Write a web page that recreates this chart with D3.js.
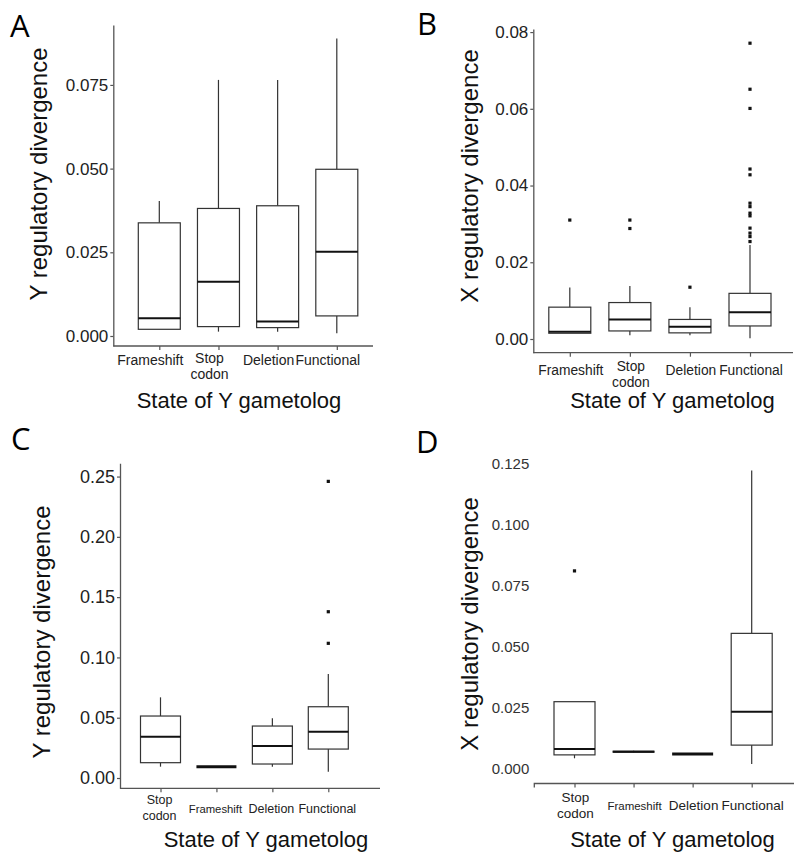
<!DOCTYPE html>
<html>
<head>
<meta charset="utf-8">
<script src="https://cdn.jsdelivr.net/npm/d3@7"></script>
<style>
  html, body { margin: 0; padding: 0; background: #fff; }
  svg { display: block; }
</style>
</head>
<body>
<svg id="chart" width="794" height="852"></svg>
<script>
// ---------------- DATA ----------------
// Panel A: Y regulatory divergence
const catsA = ["Frameshift", "Stop\ncodon", "Deletion", "Functional"];
const lowA  = [0.0020, 0.0013, 0.0013, 0.0008];
const q1A   = [0.0020, 0.0028, 0.0025, 0.0060];
const medA  = [0.0053, 0.0162, 0.0043, 0.0252];
const q3A   = [0.0338, 0.0381, 0.0389, 0.0498];
const highA = [0.0403, 0.0765, 0.0765, 0.0889];
const outA  = [[], [], [], []];
const ticksA = [0, 0.025, 0.05, 0.075];

// Panel B: X regulatory divergence
const catsB = ["Frameshift", "Stop\ncodon", "Deletion", "Functional"];
const lowB  = [0.0015, 0.0010, 0.0010, 0.0002];
const q1B   = [0.0015, 0.0021, 0.0016, 0.0034];
const medB  = [0.0019, 0.0051, 0.0032, 0.0070];
const q3B   = [0.0083, 0.0095, 0.0051, 0.0119];
const highB = [0.0134, 0.0138, 0.0083, 0.0245];
const outB  = [[0.0310], [0.0310, 0.0288], [0.0135],
  [0.0771, 0.0651, 0.0601, 0.0443, 0.0428, 0.0354, 0.0345, 0.0328, 0.0321, 0.0289, 0.0276, 0.0267, 0.0254]];
const ticksB = [0, 0.02, 0.04, 0.06, 0.08];

// Panel C: Y regulatory divergence
const catsC = ["Stop\ncodon", "Frameshift", "Deletion", "Functional"];
const lowC  = [0.0094, 0.0094, 0.0094, 0.0052];
const q1C   = [0.0127, 0.0094, 0.0116, 0.0240];
const medC  = [0.0342, 0.0094, 0.0265, 0.0384];
const q3C   = [0.0514, 0.0094, 0.0431, 0.0591];
const highC = [0.0669, 0.0094, 0.0495, 0.0862];
const outC  = [[], [], [], [0.1117, 0.1379, 0.2460]];
const ticksC = [0, 0.05, 0.10, 0.15, 0.20, 0.25];

// Panel D: X regulatory divergence
const catsD = ["Stop\ncodon", "Frameshift", "Deletion", "Functional"];
const lowD  = [0.0041, 0.0064, 0.0059, 0.0018];
const q1D   = [0.0055, 0.0066, 0.0059, 0.0095];
const medD  = [0.0079, 0.0068, 0.0059, 0.0232];
const q3D   = [0.0273, 0.0070, 0.0059, 0.0553];
const highD = [0.0273, 0.0072, 0.0059, 0.1220];
const outD  = [[0.0809], [], [], []];
const ticksD = [0, 0.025, 0.05, 0.075, 0.10, 0.125];

const xTitle = "State of Y gametolog";

// ---------------- DRAWING ----------------
const svg = d3.select("#chart");
const SANS = "'Liberation Sans', Arial, Helvetica, sans-serif";
const LETTER = "'Open Sans', 'Noto Sans', sans-serif";

function panel(cfg) {
  const g = svg.append("g");
  const y = d3.scaleLinear().domain(cfg.yDomain).range(cfg.yRange);
  const x = d3.scalePoint().domain(d3.range(cfg.cats.length)).range(cfg.xRange);
  const yBottom = cfg.yRange[0];

  // y axis
  const yAx = d3.axisLeft(y).tickValues(cfg.ticks).tickFormat(d3.format(cfg.fmt))
    .tickSize(cfg.showY ? 3 : 0).tickSizeOuter(0).tickPadding(cfg.showY ? 2 : 5);
  const yg = g.append("g").attr("transform", `translate(${cfg.axisX},0)`).call(yAx);
  yg.select(".domain").attr("stroke", "#555").attr("stroke-width", 1.3)
    .attr("display", cfg.showY ? null : "none");
  yg.selectAll(".tick line").attr("stroke", "#555").attr("stroke-width", 1.2);
  yg.selectAll(".tick text").attr("fill", cfg.tickColor).style("font-size", cfg.tickFont + "px")
    .style("font-family", SANS);

  // x axis ticks
  const xAx = d3.axisBottom(x).tickSize(4).tickFormat("").tickSizeOuter(0);
  const xg = g.append("g").attr("transform", `translate(0,${yBottom})`).call(xAx);
  xg.select(".domain").remove();
  xg.selectAll(".tick line").attr("stroke", "#555").attr("stroke-width", 1.2);
  // x axis line
  g.append("path")
    .attr("d", cfg.showY
      ? `M${cfg.axisX},${yBottom}H${cfg.axisRight}`
      : `M${cfg.axisX},${yBottom + 4}V${yBottom}H${cfg.axisRight}`)
    .attr("fill", "none").attr("stroke", "#555").attr("stroke-width", 1.3);

  // boxes
  const idx = d3.range(cfg.cats.length);
  const bw = cfg.boxW;
  const bx = g.append("g");
  idx.forEach(i => {
    const cx = x(i);
    bx.append("line").attr("x1", cx).attr("x2", cx)
      .attr("y1", y(cfg.q3[i])).attr("y2", y(cfg.high[i]))
      .attr("stroke", "#333").attr("stroke-width", 1.2);
    bx.append("line").attr("x1", cx).attr("x2", cx)
      .attr("y1", y(cfg.q1[i])).attr("y2", y(cfg.low[i]))
      .attr("stroke", "#333").attr("stroke-width", 1.2);
    bx.append("rect").attr("x", cx - bw / 2).attr("width", bw)
      .attr("y", y(cfg.q3[i])).attr("height", Math.max(0, y(cfg.q1[i]) - y(cfg.q3[i])))
      .attr("fill", "#fff").attr("stroke", "#333").attr("stroke-width", 1.2);
    bx.append("line").attr("x1", cx - bw / 2).attr("x2", cx + bw / 2)
      .attr("y1", y(cfg.med[i])).attr("y2", y(cfg.med[i]))
      .attr("stroke", "#111").attr("stroke-width", cfg.q1[i] === cfg.q3[i] ? 3 : 2);
    cfg.out[i].forEach(v => {
      bx.append("rect").attr("x", cx - 1.6).attr("y", y(v) - 1.6)
        .attr("width", 3.2).attr("height", 3.2).attr("fill", "#111");
    });
  });

  // category labels
  idx.forEach(i => {
    const parts = cfg.cats[i].split("\n");
    const lx = x(i) + cfg.labelDx;
    const fs = parts[0] === "Frameshift" ? cfg.fsFont : cfg.catFont;
    const t = g.append("text").attr("text-anchor", "middle")
      .style("font-family", SANS).style("font-size", fs + "px").attr("fill", "#222");
    if (parts.length === 1) {
      t.attr("x", lx).attr("y", cfg.singleBase).text(parts[0]);
    } else {
      parts.forEach((p, k) => {
        t.append("tspan").attr("x", lx).attr("y", cfg.stopBase + k * 16).text(p);
      });
    }
  });

  // axis titles
  g.append("text").attr("text-anchor", "middle")
    .attr("transform", `translate(${cfg.yTitleX},${cfg.yTitleY}) rotate(-90)`)
    .style("font-family", SANS).style("font-size", "24px").attr("fill", "#111")
    .text(cfg.yTitle);
  g.append("text").attr("text-anchor", "middle")
    .attr("x", cfg.xTitleX).attr("y", cfg.xTitleY)
    .style("font-family", SANS).style("font-size", "22px").attr("fill", "#111")
    .text(xTitle);

  // panel letter
  g.append("text").attr("x", cfg.letterX).attr("y", cfg.letterY)
    .style("font-family", LETTER).style("font-size", "31px").attr("fill", "#000")
    .text(cfg.letter);
}

panel({
  letter: "A", letterX: 10, letterY: 37,
  cats: catsA, low: lowA, q1: q1A, med: medA, q3: q3A, high: highA, out: outA,
  ticks: ticksA, fmt: ".3f", yDomain: [-0.00299, 0.0929], yRange: [346, 25],
  xRange: [159.3, 336.8], axisX: 113.3, axisRight: 373, boxW: 42, showY: true,
  tickFont: 17, tickColor: "#222", catFont: 14, fsFont: 14, labelDx: -9,
  singleBase: 365, stopBase: 363,
  yTitle: "Y regulatory divergence", yTitleX: 47, yTitleY: 174,
  xTitleX: 239, xTitleY: 408
});

panel({
  letter: "B", letterX: 417, letterY: 35,
  cats: catsB, low: lowB, q1: q1B, med: medB, q3: q3B, high: highB, out: outB,
  ticks: ticksB, fmt: ".2f", yDomain: [-0.00357, 0.0808], yRange: [352.7, 29],
  xRange: [569.8, 750], axisX: 533.3, axisRight: 793, boxW: 42, showY: true,
  tickFont: 17, tickColor: "#222", catFont: 13.8, fsFont: 13.8, labelDx: 1,
  singleBase: 374.5, stopBase: 370.7,
  yTitle: "X regulatory divergence", yTitleX: 478, yTitleY: 176,
  xTitleX: 672.5, xTitleY: 408
});

panel({
  letter: "C", letterX: 11, letterY: 450,
  cats: catsC, low: lowC, q1: q1C, med: medC, q3: q3C, high: highC, out: outC,
  ticks: ticksC, fmt: ".2f", yDomain: [-0.00854, 0.261], yRange: [788.3, 463.3],
  xRange: [160.5, 328.3], axisX: 120, axisRight: 380, boxW: 40, showY: true,
  tickFont: 18, tickColor: "#222", catFont: 12.5, fsFont: 11.3, labelDx: -1,
  singleBase: 812.7, stopBase: 804,
  yTitle: "Y regulatory divergence", yTitleX: 50, yTitleY: 632,
  xTitleX: 266, xTitleY: 846.7
});

panel({
  letter: "D", letterX: 416, letterY: 453,
  cats: catsD, low: lowD, q1: q1D, med: medD, q3: q3D, high: highD, out: outD,
  ticks: ticksD, fmt: ".3f", yDomain: [-0.00623, 0.1284], yRange: [783.5, 455],
  xRange: [574.5, 751.7], axisX: 534.3, axisRight: 794, boxW: 41, showY: false,
  tickFont: 15, tickColor: "#333", catFont: 13.5, fsFont: 11.5, labelDx: 1,
  singleBase: 810, stopBase: 801.7,
  yTitle: "X regulatory divergence", yTitleX: 478, yTitleY: 624,
  xTitleX: 672.5, xTitleY: 846.7
});
</script>
</body>
</html>
